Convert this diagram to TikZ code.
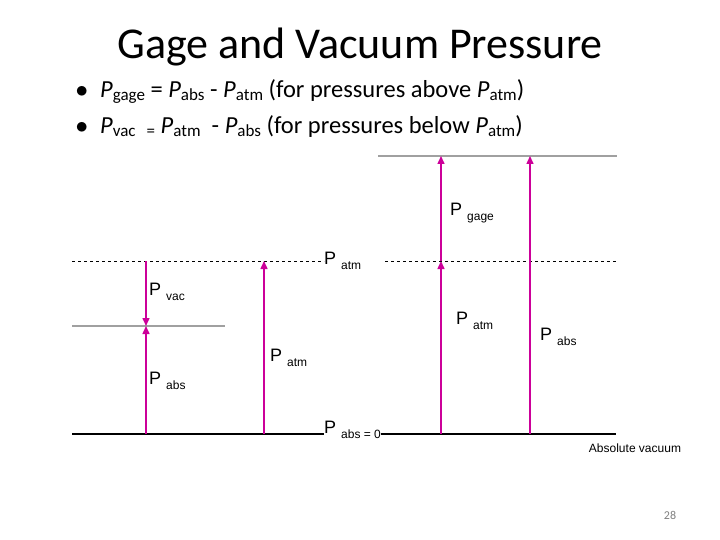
\documentclass[tikz,border=0pt]{standalone}
\usepackage{fontspec}
\setmainfont{Carlito}
\newfontfamily\arialfont{Liberation Sans}
\usetikzlibrary{arrows.meta}
\definecolor{magline}{RGB}{204,0,153}
\definecolor{grayline}{RGB}{160,160,160}
\tikzset{
  parrow/.style={magline, line width=1.5pt, -{Triangle[length=8pt,width=7pt]}},
  plabel/.style={font=\arialfont\fontsize{18}{18}\selectfont, anchor=west, inner sep=1pt}
}
\newcommand{\pl}[1]{P\ {\fontsize{12}{12}\selectfont\raisebox{-5pt}{#1}}}
\newcommand{\bsub}[1]{\raisebox{-3pt}{\fontsize{17}{17}\selectfont #1}}
\begin{document}
\begin{tikzpicture}[x=1pt, y=-1pt]
  \useasboundingbox (0,0) rectangle (720,540);
  % title and bullets
  \node (title) at (360,47) {\fontsize{44}{46}\selectfont Gage and Vacuum Pressure};
  \node[anchor=west] (b1) at (72,92) {\fontsize{24.5}{26}\selectfont $\bullet$\enspace\textit{P}\bsub{gage} = \textit{P}\bsub{abs} - \textit{P}\bsub{atm} (for pressures above \textit{P}\bsub{atm})};
  \node[anchor=west] (b2) at (72,127) {\fontsize{24.5}{26}\selectfont $\bullet$\enspace\textit{P}\bsub{vac} \ \bsub{=} \textit{P}\bsub{atm} \ - \textit{P}\bsub{abs} (for pressures below \textit{P}\bsub{atm})};
  % reference levels
  \coordinate (atmL) at (72,261);
  \coordinate (atmM) at (324,261);
  \coordinate (atmN) at (385,261);
  \coordinate (atmR) at (616,261);
  \coordinate (zeroL) at (72,434);
  \coordinate (zeroM) at (324,434);
  \coordinate (zeroN) at (381,434);
  \coordinate (zeroR) at (616,434);
  \coordinate (topL) at (378,156);
  \coordinate (topR) at (617,156);
  \coordinate (lowL) at (72,326);
  \coordinate (lowR) at (225,326);
  \draw[dashed, line width=0.8pt] (atmL) -- (atmM);
  \draw[dashed, line width=0.8pt] (atmN) -- (atmR);
  \draw[line width=1.8pt] (zeroL) -- (zeroM);
  \draw[line width=1.8pt] (zeroN) -- (zeroR);
  \draw[grayline, line width=1.8pt] (topL) -- (topR);
  \draw[grayline, line width=1.8pt] (lowL) -- (lowR);
  % arrows
  \coordinate (a1) at (146,261);
  \coordinate (a2) at (146,326);
  \coordinate (a3) at (146,434);
  \coordinate (b1s) at (264,434);
  \coordinate (b1e) at (264,261);
  \coordinate (c1) at (441,434);
  \coordinate (c2) at (441,261);
  \coordinate (c3) at (441,156);
  \coordinate (d1) at (530,434);
  \coordinate (d2) at (530,156);
  \draw[parrow] (a1) -- (a2);
  \draw[parrow] (a3) -- (a2);
  \draw[parrow] (b1s) -- (b1e);
  \draw[parrow] (c1) -- (c2);
  \draw[parrow] (c2) -- (c3);
  \draw[parrow] (d1) -- (d2);
  % labels
  \node[plabel] (pvac) at (148,292) {\pl{vac}};
  \node[plabel] (pabsL) at (148,381) {\pl{abs}};
  \node[plabel] (patmL) at (269,358) {\pl{atm}};
  \node[plabel] (patmC) at (323,261) {\pl{atm}};
  \node[plabel] (pzero) at (323,430) {\pl{abs = 0}};
  \node[plabel] (pgage) at (449,213) {\pl{gage}};
  \node[plabel] (patmR) at (455,321) {\pl{atm}};
  \node[plabel] (pabsR) at (539,337) {\pl{abs}};
  \node[font=\arialfont\fontsize{12}{12}\selectfont] (vac) at (635,448) {Absolute vacuum};
  \node[font=\fontsize{12}{12}\selectfont, text=gray] (num) at (670,515) {28};
\end{tikzpicture}
\end{document}
